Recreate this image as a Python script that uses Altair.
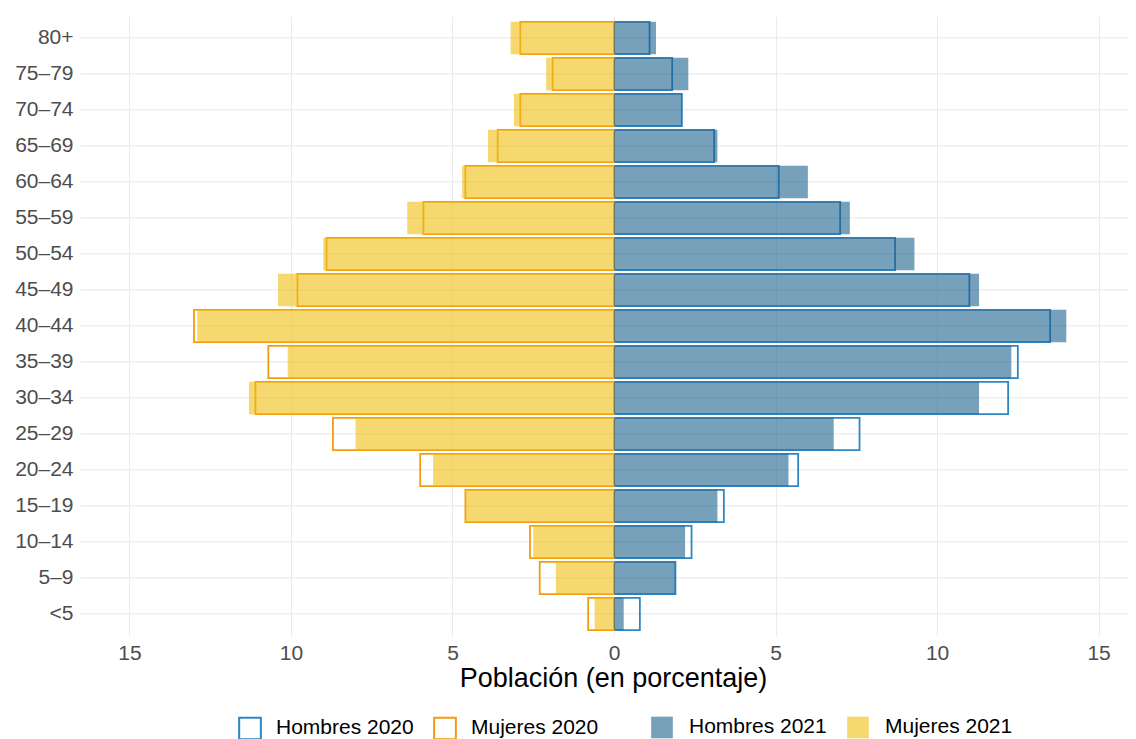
import altair as alt
import pandas as pd

ages = ["<5", "5\u20139", "10\u201314", "15\u201319", "20\u201324", "25\u201329", "30\u201334",
        "35\u201339", "40\u201344", "45\u201349", "50\u201354", "55\u201359", "60\u201364",
        "65\u201369", "70\u201374", "75\u201379", "80+"]

hombres_2020 = [0.8, 1.9, 2.4, 3.4, 5.7, 7.6, 12.2, 12.5, 13.5, 11.0, 8.7, 7.0, 5.1, 3.1, 2.1, 1.8, 1.1]
mujeres_2020 = [0.8, 2.3, 2.6, 4.6, 6.0, 8.7, 11.1, 10.7, 13.0, 9.8, 8.9, 5.9, 4.6, 3.6, 2.9, 1.9, 2.9]
hombres_2021 = [0.3, 1.9, 2.2, 3.2, 5.4, 6.8, 11.3, 12.3, 14.0, 11.3, 9.3, 7.3, 6.0, 3.2, 2.1, 2.3, 1.3]
mujeres_2021 = [0.6, 1.8, 2.5, 4.6, 5.6, 8.0, 11.3, 10.1, 12.9, 10.4, 9.0, 6.4, 4.7, 3.9, 3.1, 2.1, 3.2]

series_2020 = ["Hombres 2020", "Mujeres 2020"]
series_2021 = ["Hombres 2021", "Mujeres 2021"]
colors_2020 = ["#2f86c4", "#f39c12"]
colors_2021 = ["#1c618e", "#eebe11"]

rows = []
for i, a in enumerate(ages):
    rows.append(dict(edad=a, valor=hombres_2020[i], serie="Hombres 2020", anio="2020"))
    rows.append(dict(edad=a, valor=-mujeres_2020[i], serie="Mujeres 2020", anio="2020"))
    rows.append(dict(edad=a, valor=hombres_2021[i], serie="Hombres 2021", anio="2021"))
    rows.append(dict(edad=a, valor=-mujeres_2021[i], serie="Mujeres 2021", anio="2021"))
df = pd.DataFrame(rows)

FONT = "Liberation Sans"

y_enc = alt.Y(
    "edad:N",
    sort=ages[::-1],
    scale=alt.Scale(paddingInner=0.1, paddingOuter=0.15),
    axis=alt.Axis(title=None, ticks=False, domain=False, labelFontSize=21,
                  labelColor="#4d4d4d", labelPadding=7, grid=True,
                  gridColor="#ebebeb", gridWidth=1.1, bandPosition=0.5,
                  labelFont=FONT),
)

x_enc = alt.X(
    "valor:Q",
    stack=None,
    scale=alt.Scale(domain=[-16.53, 15.91], nice=False, zero=False),
    axis=alt.Axis(values=[-15, -10, -5, 0, 5, 10, 15], labelExpr="abs(datum.value)",
                  title="Población (en porcentaje)", ticks=False, domain=False,
                  labelFontSize=21, labelColor="#4d4d4d", labelPadding=7,
                  titleFontSize=27, titleFontWeight="normal", titleColor="black",
                  titlePadding=2, titleX=533, grid=True, gridColor="#ebebeb", gridWidth=1.1,
                  labelFont=FONT, titleFont=FONT),
)

outline = alt.Chart(df).transform_filter(alt.datum.anio == "2020").mark_bar(
    filled=False, strokeWidth=1.8
).encode(
    x=x_enc,
    y=y_enc,
    stroke=alt.Stroke(
        "serie:N",
        scale=alt.Scale(domain=series_2020, range=colors_2020),
        legend=alt.Legend(orient="none", legendX=158, legendY=700, direction="horizontal",
                          title=None, symbolType="square", symbolSize=470,
                          labelFontSize=21, labelOffset=14, columnPadding=16, padding=0,
                          symbolStrokeWidth=2, labelColor="black", labelFont=FONT,
                          symbolFillColor="white"),
    ),
)

fill = alt.Chart(df).transform_filter(alt.datum.anio == "2021").mark_bar(
    opacity=0.6
).encode(
    x=x_enc,
    y=y_enc,
    fill=alt.Fill(
        "serie:N",
        scale=alt.Scale(domain=series_2021, range=colors_2021),
        legend=alt.Legend(orient="none", legendX=571, legendY=700, direction="horizontal",
                          title=None, symbolType="square", symbolSize=470,
                          labelFontSize=21, labelOffset=16, columnPadding=20, padding=0,
                          symbolOpacity=0.6, symbolStrokeWidth=0, labelColor="black",
                          labelFont=FONT),
    ),
)

chart = alt.layer(outline, fill).properties(
    width=1048,
    height=619.2,
    padding={"left": 72, "top": 8.4, "right": 0, "bottom": 103},
    autosize=alt.AutoSizeParams(type="none"),
    background="white",
).configure(font=FONT).configure_view(stroke=None)

chart.save("out.html", embed_options={"renderer": "svg", "actions": False})
